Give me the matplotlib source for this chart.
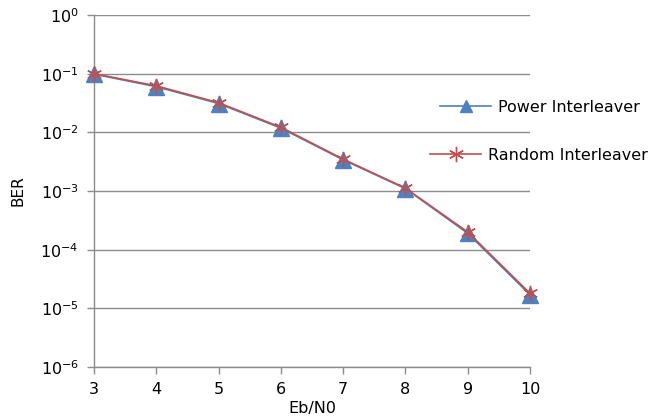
import matplotlib as mpl
from matplotlib import pyplot as plt
from matplotlib.lines import Line2D

mpl.rcParams["font.family"] = "DejaVu Sans"

ebn0 = [3, 4, 5, 6, 7, 8, 9, 10]
ber_power = [0.098, 0.060, 0.031, 0.0118, 0.0034, 0.00110, 0.00019, 1.7e-5]
ber_random = [0.100, 0.062, 0.032, 0.0122, 0.0035, 0.00112, 0.00020, 1.8e-5]

grey = "#8C8C8C"
blue = "#4F81BD"
red = "#C0504D"

fig = plt.figure(figsize=(6.65, 4.17), dpi=100)
ax = fig.add_axes([94/665, 1-367/417, (530-94)/665, (367-15)/417])

ax.plot(ebn0, ber_power, color=blue, lw=1.2, marker="^", markersize=11,
        mec=blue, mfc=blue, clip_on=False, zorder=3)
ax.plot(ebn0, ber_random, color=red, lw=1.2, marker=(6, 2, 0), markersize=11,
        mec=red, mew=1.0, clip_on=False, zorder=4)

ax.set_yscale("log")
ax.set_ylim(1e-6, 1)
ax.set_xlim(3, 10)
ax.set_xticks(ebn0)
ax.set_yticks([10.0**k for k in range(-6, 1)])
ax.minorticks_off()

ax.grid(axis="y", color=grey, lw=1.0)
ax.set_axisbelow(True)
for s in ["top", "right"]:
    ax.spines[s].set_visible(False)
for s in ["left", "bottom"]:
    ax.spines[s].set_color(grey)
    ax.spines[s].set_linewidth(1.0)
ax.tick_params(direction="out", length=5, color=grey, width=1.0, labelsize=11.5, pad=6)

ax.set_xlabel("Eb/N0", fontsize=11.5, labelpad=3)
ax.set_ylabel("BER", fontsize=11, labelpad=11)

h1 = Line2D([], [], color=blue, lw=1.2, marker="^", markersize=9, mfc=blue, mec=blue)
h2 = Line2D([], [], color=red, lw=1.2, marker=(6, 2, 0), markersize=11, mec=red)
leg1 = fig.legend([h1], ["Power Interleaver"], loc="center left",
                  bbox_to_anchor=(426/665, 1-107/417), frameon=False,
                  fontsize=11.5, handlelength=3.2, handletextpad=0.4)
leg2 = fig.legend([h2], ["Random Interleaver"], loc="center left",
                  bbox_to_anchor=(416/665, 1-155/417), frameon=False,
                  fontsize=11.5, handlelength=3.2, handletextpad=0.4)

fig.savefig("out.png", dpi=100)
